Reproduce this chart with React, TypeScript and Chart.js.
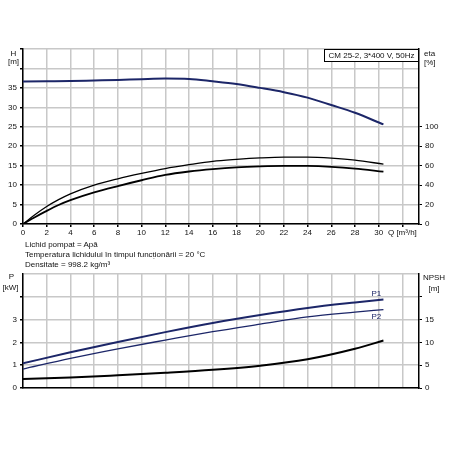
import React, { useEffect, useRef } from 'react';
import { Chart, registerables } from 'chart.js';

Chart.register(...registerables);

// ---------- data ----------
const Q_MAX = 33.4;
const qTicks = [0, 2, 4, 6, 8, 10, 12, 14, 16, 18, 20, 22, 24, 26, 28, 30, 32];
const hTicks = [0, 5, 10, 15, 20, 25, 30, 35, 40, 45];
const etaTicks = [0, 20, 40, 60, 80, 100, 120, 140, 160, 180];
const pTicks = [0, 1, 2, 3, 4, 5];
const npshTicks = [0, 5, 10, 15, 20, 25];

const qHead = [0, 2, 4, 6, 8, 10, 12, 14, 16, 18, 20, 22, 24, 26, 28, 30.4];
const head = [36.65, 36.7, 36.75, 36.9, 37.05, 37.25, 37.4, 37.3, 36.7, 36.0, 35.0, 33.9, 32.5, 30.6, 28.6, 25.6];

const qEta = [0, 1, 2, 3, 4, 6, 8, 10, 12, 14, 16, 18, 20, 22, 24, 26, 28, 30.4];
const etaPump = [0, 9.5, 18, 25, 31, 40, 46.5, 52, 57, 61, 64.5, 66.5, 68, 68.8, 68.8, 67.8, 65.8, 61.5];
const etaTotal = [0, 7, 13.5, 19.5, 24.5, 32.5, 39, 45, 50.5, 54, 56.5, 58.3, 59.3, 59.8, 59.7, 58.8, 57, 53.8];

const qPow = [0, 4, 8, 12, 16, 20, 24, 28, 30.4];
const p1 = [1.08, 1.57, 2.02, 2.45, 2.85, 3.2, 3.51, 3.75, 3.88];
const p2 = [0.83, 1.3, 1.72, 2.1, 2.47, 2.8, 3.12, 3.33, 3.44];
const npsh = [1.95, 2.3, 2.8, 3.35, 4.0, 4.9, 6.3, 8.6, 10.4];

const titleText = 'CM 25-2, 3*400 V, 50Hz';
const infoLines = [
  'Lichid pompat = Apă',
  'Temperatura lichidului în timpul funcționării = 20 °C',
  'Densitate = 998.2 kg/m³',
];

// ---------- styles ----------
const FONT = 'Liberation Sans';
const tickFont = { family: FONT, size: 8 };
const NAVY = '#1c2668';
const GRID = '#c8c8c8';

const pts = (xs: number[], ys: number[]) => xs.map((x, i) => ({ x, y: ys[i] }));

const setTicks = (vals: number[]) => (s: any) => {
  s.ticks = vals.map((v) => ({ value: v }));
};

function lineDs(label: string, data: any[], color: string, width: number, axis: string) {
  return {
    label,
    data,
    borderColor: color,
    backgroundColor: color,
    borderWidth: width,
    pointRadius: 0,
    fill: false,
    cubicInterpolationMode: 'monotone' as const,
    yAxisID: axis,
  };
}

function textPlugin(draw: (chart: any, ctx: CanvasRenderingContext2D) => void) {
  return {
    id: 'txt' + Math.random().toString(36).slice(2),
    afterDraw(chart: any) {
      const ctx = chart.ctx as CanvasRenderingContext2D;
      ctx.save();
      ctx.fillStyle = '#111';
      ctx.font = `8px "${FONT}"`;
      ctx.textBaseline = 'middle';
      draw(chart, ctx);
      ctx.restore();
    },
  };
}

export default function App() {
  const topRef = useRef<HTMLCanvasElement>(null);
  const botRef = useRef<HTMLCanvasElement>(null);

  useEffect(() => {
    const top = new Chart(topRef.current!, {
      type: 'line',
      data: {
        datasets: [
          lineDs('H', pts(qHead, head), NAVY, 2, 'y'),
          lineDs('eta', pts(qEta, etaPump), '#000', 1.3, 'y2'),
          lineDs('eta2', pts(qEta, etaTotal), '#000', 1.8, 'y2'),
        ],
      },
      options: {
        responsive: false,
        maintainAspectRatio: false,
        animation: false,
        layout: { padding: { top: 49, left: 0, right: 0, bottom: 0 } },
        plugins: { legend: { display: false }, tooltip: { enabled: false } },
        scales: {
          x: {
            type: 'linear',
            min: 0,
            max: Q_MAX,
            afterBuildTicks: setTicks(qTicks),
            afterFit: (s: any) => { s.height = 16; },
            ticks: {
              font: tickFont,
              color: '#111',
              padding: 1,
              maxRotation: 0,
              autoSkip: false,
              callback: (v: any) => (v === 32 ? 'Q [m³/h]' : String(v)),
            },
            grid: { color: GRID, lineWidth: 1.5, tickLength: 3, tickColor: '#000' },
            border: { color: '#000', width: 1.5 },
          },
          y: {
            type: 'linear',
            position: 'left',
            min: 0,
            max: 45,
            afterBuildTicks: setTicks(hTicks),
            afterFit: (s: any) => { s.width = 23; },
            ticks: {
              font: tickFont,
              color: '#111',
              padding: 3,
              autoSkip: false,
              callback: (v: any) => (v <= 35 ? String(v) : ''),
            },
            grid: { color: GRID, lineWidth: 1.5, tickLength: 3, tickColor: '#000' },
            border: { color: '#000', width: 1.5 },
          },
          y2: {
            type: 'linear',
            position: 'right',
            min: 0,
            max: 180,
            afterBuildTicks: setTicks(etaTicks),
            afterFit: (s: any) => { s.width = 31; },
            ticks: {
              font: tickFont,
              color: '#111',
              padding: 3,
              autoSkip: false,
              callback: (v: any) => (v <= 100 ? String(v) : ''),
            },
            grid: {
              drawOnChartArea: false,
              tickLength: 3,
              tickColor: (c: any) => (c.tick && c.tick.value <= 100 ? '#000' : 'rgba(0,0,0,0)'),
            },
            border: { color: '#000', width: 1.5 },
          },
        },
      },
      plugins: [
        textPlugin((chart, ctx) => {
          const a = chart.chartArea;
          ctx.textAlign = 'center';
          ctx.fillText('H', 13.5, 53.3);
          ctx.fillText('[m]', 13.5, 61.5);
          ctx.textAlign = 'left';
          ctx.fillText('eta', 424, 53.7);
          ctx.fillText('[%]', 424, 63);
          // title box
          ctx.textAlign = 'center';
          const w = 95, h = 13;
          const bx = a.right - w, by = a.top;
          ctx.fillStyle = '#fff';
          ctx.fillRect(bx, by, w, h);
          ctx.strokeStyle = '#000';
          ctx.lineWidth = 1;
          ctx.strokeRect(bx + 0.5, by + 0.5, w - 1, h - 1);
          ctx.fillStyle = '#111';
          ctx.fillText(titleText, bx + w / 2, by + h / 2 + 0.5);
        }),
      ],
    } as any);

    const bot = new Chart(botRef.current!, {
      type: 'line',
      data: {
        datasets: [
          lineDs('P1', pts(qPow, p1), NAVY, 2, 'y'),
          lineDs('P2', pts(qPow, p2), NAVY, 1.3, 'y'),
          lineDs('NPSH', pts(qPow, npsh), '#000', 2, 'y2'),
        ],
      },
      options: {
        responsive: false,
        maintainAspectRatio: false,
        animation: false,
        layout: { padding: { top: 34, left: 0, right: 0, bottom: 0 } },
        plugins: { legend: { display: false }, tooltip: { enabled: false } },
        scales: {
          x: {
            type: 'linear',
            min: 0,
            max: Q_MAX,
            afterBuildTicks: setTicks(qTicks),
            afterFit: (s: any) => { s.height = 62; },
            ticks: { display: false },
            grid: { color: GRID, lineWidth: 1.5, drawTicks: false, tickLength: 0 },
            border: { color: '#000', width: 1.5 },
          },
          y: {
            type: 'linear',
            position: 'left',
            min: 0,
            max: 5,
            afterBuildTicks: setTicks(pTicks),
            afterFit: (s: any) => { s.width = 23; },
            ticks: {
              font: tickFont,
              color: '#111',
              padding: 3,
              autoSkip: false,
              callback: (v: any) => (v <= 3 ? String(v) : ''),
            },
            grid: { color: GRID, lineWidth: 1.5, tickLength: 3, tickColor: (c: any) => (c.tick && c.tick.value <= 4 ? '#000' : 'rgba(0,0,0,0)') },
            border: { color: '#000', width: 1.5 },
          },
          y2: {
            type: 'linear',
            position: 'right',
            min: 0,
            max: 25,
            afterBuildTicks: setTicks(npshTicks),
            afterFit: (s: any) => { s.width = 31; },
            ticks: {
              font: tickFont,
              color: '#111',
              padding: 3,
              autoSkip: false,
              callback: (v: any) => (v <= 15 ? String(v) : ''),
            },
            grid: {
              drawOnChartArea: false,
              tickLength: 3,
              tickColor: (c: any) => (c.tick && c.tick.value <= 20 ? '#000' : 'rgba(0,0,0,0)'),
            },
            border: { color: '#000', width: 1.5 },
          },
        },
      },
      plugins: [
        textPlugin((chart, ctx) => {
          ctx.textAlign = 'center';
          ctx.fillText('P', 11.5, 37);
          ctx.fillText('[kW]', 10.5, 48);
          ctx.fillText('NPSH', 434, 37.5);
          ctx.fillText('[m]', 434, 49);
          const xs = chart.scales.x, ys = chart.scales.y;
          const lx = xs.getPixelForValue(29.8);
          const n = qPow.length - 1;
          ctx.fillStyle = NAVY;
          ctx.fillText('P1', lx, ys.getPixelForValue(p1[n]) - 6);
          ctx.fillText('P2', lx, ys.getPixelForValue(p2[n]) + 7);
        }),
      ],
    } as any);

    return () => {
      top.destroy();
      bot.destroy();
    };
  }, []);

  return (
    <div
      style={{
        position: 'absolute',
        left: 0,
        top: 0,
        width: 450,
        height: 450,
        background: '#fff',
        overflow: 'hidden',
      }}
    >
      <canvas ref={topRef} width={450} height={240} style={{ position: 'absolute', left: 0, top: 0 }} />
      <canvas ref={botRef} width={450} height={210} style={{ position: 'absolute', left: 0, top: 240 }} />
      <div
        style={{
          position: 'absolute',
          left: 25,
          top: 240,
          fontFamily: FONT,
          fontSize: 8,
          lineHeight: '10px',
          color: '#111',
          whiteSpace: 'nowrap',
          zIndex: 2,
        }}
      >
        {infoLines.map((t) => (
          <div key={t}>{t}</div>
        ))}
      </div>
    </div>
  );
}
